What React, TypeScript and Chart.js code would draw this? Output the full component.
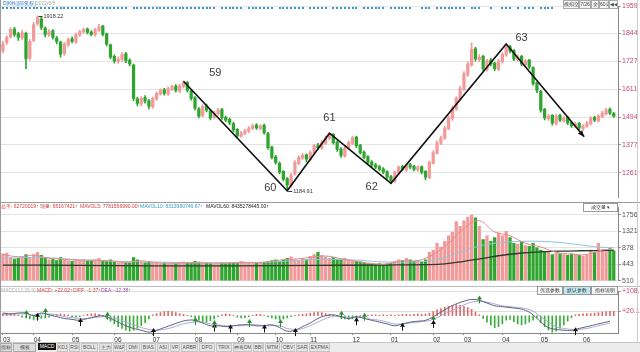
import React, { useEffect, useRef } from "react";
import { Chart, registerables } from "chart.js";
Chart.register(...registerables);

const FONT = '"Liberation Sans", Arial, sans-serif';
const UP = "#f29a9a";
const DOWN = "#2fa52f";

// ---------- price (OHLC) ----------
const opens = [1770,1805,1830,1862,1842,1825,1845,1740,1815,1885, 1905,1866,1838,1855,1825,1808,1760,1797,1822,1808, 1838,1850,1862,1850,1838,1858,1875,1842,1796,1748, 1726,1735,1760,1731,1712,1570,1548,1575,1562,1536, 1570,1590,1608,1590,1610,1624,1602,1622,1640,1603, 1575,1528,1500,1541,1520,1492,1508,1525,1493,1484, 1466,1442,1413,1425,1434,1446,1460,1445,1459,1425, 1368,1327,1300,1266,1236,1206,1255,1300,1322,1336, 1315,1342,1376,1363,1384,1404,1422,1389,1360,1330, 1363,1384,1410,1376,1347,1328,1306,1294,1286,1277, 1265,1245,1224,1260,1287,1272,1295,1287,1272,1286, 1266,1240,1300,1342,1384,1405,1445,1487,1528,1568, 1610,1670,1712,1780,1734,1748,1693,1732,1719,1693, 1726,1754,1789,1773,1734,1748,1713,1732,1701,1637, 1602,1526,1487,1501,1466,1501,1478,1493,1472,1454, 1468,1445,1455,1466,1493,1478,1495,1507,1526,1508];
const closes = [1799,1827,1860,1840,1827,1848,1737,1811,1881,1910, 1869,1840,1852,1827,1811,1757,1799,1819,1811,1840, 1852,1860,1848,1840,1860,1873,1840,1799,1745,1729, 1737,1757,1729,1716,1572,1551,1572,1560,1539,1572, 1593,1605,1593,1613,1621,1605,1626,1638,1605,1572, 1531,1498,1539,1523,1490,1510,1523,1490,1481,1469, 1440,1415,1428,1436,1448,1457,1448,1457,1428,1366, 1325,1304,1263,1234,1209,1251,1304,1325,1333,1317, 1345,1374,1366,1387,1407,1420,1387,1358,1333,1366, 1387,1407,1374,1345,1325,1304,1292,1284,1275,1263, 1242,1226,1263,1284,1275,1292,1284,1275,1284,1263, 1242,1304,1345,1387,1407,1448,1490,1531,1572,1613, 1675,1716,1778,1737,1745,1696,1729,1716,1696,1729, 1757,1786,1770,1737,1745,1716,1729,1704,1634,1605, 1523,1490,1498,1469,1498,1481,1490,1469,1457,1465, 1448,1457,1469,1490,1481,1498,1510,1523,1510,1498];
const highs = [1812,1835,1868,1870,1850,1858,1850,1818,1890,1918.22, 1912,1872,1860,1860,1832,1812,1806,1826,1830,1846, 1858,1866,1868,1856,1865,1882,1878,1846,1800,1754, 1746,1764,1765,1738,1716,1578,1580,1584,1568,1578, 1600,1612,1614,1620,1628,1630,1632,1644,1642,1608, 1580,1534,1546,1548,1526,1518,1530,1530,1498,1490, 1472,1446,1434,1442,1454,1464,1466,1462,1464,1430, 1372,1334,1306,1270,1240,1258,1312,1332,1342,1340, 1352,1380,1384,1394,1414,1426,1424,1394,1366,1372, 1394,1414,1414,1380,1352,1332,1312,1300,1292,1282, 1270,1250,1268,1290,1292,1298,1300,1292,1290,1290, 1270,1310,1352,1394,1414,1456,1498,1540,1580,1622, 1684,1726,1805,1786,1756,1752,1736,1740,1724,1736, 1764,1800,1794,1776,1754,1752,1736,1736,1704,1640, 1606,1530,1506,1504,1504,1506,1496,1498,1476,1472, 1472,1462,1476,1496,1498,1504,1518,1530,1532,1514];
const lows = [1762,1798,1824,1832,1815,1818,1696,1732,1810,1878, 1860,1830,1832,1820,1800,1745,1752,1790,1804,1802, 1832,1845,1842,1834,1832,1852,1834,1792,1738,1720, 1718,1728,1722,1708,1562,1540,1542,1552,1528,1530, 1564,1585,1586,1584,1604,1598,1596,1616,1598,1565, 1524,1490,1494,1515,1482,1486,1502,1484,1474,1462, 1432,1406,1408,1420,1428,1440,1442,1440,1422,1358, 1318,1296,1256,1226,1184.91,1200,1250,1294,1316,1306, 1310,1336,1358,1358,1378,1398,1380,1350,1325,1326, 1358,1378,1366,1338,1318,1296,1286,1278,1268,1256, 1234,1216,1220,1256,1268,1266,1278,1268,1266,1256, 1232,1236,1296,1338,1378,1400,1440,1480,1522,1562, 1604,1664,1706,1728,1726,1688,1686,1708,1688,1688, 1720,1748,1762,1730,1728,1708,1706,1696,1626,1596, 1514,1482,1480,1460,1460,1474,1472,1462,1450,1448, 1440,1438,1450,1460,1474,1472,1490,1502,1504,1492];
const priceTicks = [1959, 1844, 1727, 1611, 1494, 1377, 1261];

// wave (zigzag) annotation
const zigX = [47, 74, 85, 101, 131, 151.3];
const zigY = [1644, 1184.91, 1426, 1216, 1800, 1411];
const waveLabels = ["59", "60", "61", "62", "63"];
const waveLabelX = [55.3, 69.6, 85, 96, 135];
const waveLabelY = [1679, 1197, 1490, 1201, 1827];

// info-mine dots in header row
const dotIdx = [0,1,2,3,4,5,6,7,8,9,10,11,12,13,14,15,16,17,18,19,20,21,22,23,24,25,26,27,28,29,30,31,32,34,35,36,37,38,39,40,41,42,43,44,45,46,47,48,49,50,51,52,53,54,55,57,58,59,60,61,62,64,65,66,67,68,69,70,72,73,74,75,76,77,78,80,81,82,83,84,86,87,88,89,90,91,92,94,95,96,97,98,99,101,102,103,104,105,106,109,110,111,113,114,115,116,117,118,119,120,122,123,124,127,130,131,132,134,136,137,138,140,141,142,143,146,150,153,154,155];

// ---------- volume ----------
const volumes = [720,740,620,580,600,640,700,620,700,760, 680,600,560,580,540,620,560,540,520,560, 540,560,520,540,560,600,540,520,560,500, 480,500,470,480,620,560,500,480,520,470, 480,460,470,450,480,460,470,500,480,470, 520,500,480,470,460,450,470,480,460,470, 490,480,520,500,470,460,480,470,500,520, 540,560,520,560,600,640,560,540,600,560, 650,700,760,680,640,600,620,580,560,600, 560,540,520,500,480,460,450,440,460,430, 450,480,520,560,540,600,560,520,540,500, 560,760,820,1000,900,1050,1200,1300,1580,1450, 1600,1700,1750,1680,1450,1100,1200,1050,1150,1280, 1200,1320,1150,1000,980,1050,940,920,1000,880, 820,780,760,700,740,720,700,680,720,700, 680,660,700,820,760,1000,820,780,860,800];
const volTicks = [1756, 1321, 878, 443, 0];
const volTickLabels = ["1756", "1321", "878", "443", "510"];
const ma5X = [0,4,8,12,16,20,24,28,32,36,40,44,48,52,56,60,64,68,72,76,80,84,88,92,96,100,104,108,112,116,120,124,128,132,136,140,144,148,152,156,159];
const ma5Y = [700,640,680,600,570,550,550,530,490,530,480,470,480,480,470,480,480,490,550,580,620,660,590,520,460,450,540,540,700,1000,1400,1600,1300,1200,1000,900,760,710,700,820,830];
const ma10X = [0,10,20,30,40,50,60,70,80,90,100,110,115,120,125,130,135,140,145,150,155,159];
const ma10Y = [600,620,560,520,500,480,480,500,560,560,500,520,620,800,950,1020,1050,1050,1020,960,900,880];
const ma60X = [0,20,40,60,80,100,110,115,120,125,130,135,140,145,150,159];
const ma60Y = [420,410,400,400,410,420,430,450,520,600,680,740,770,790,800,810];

// ---------- MACD ----------
const lineX = [0,2,4,6,8,10,12,14,16,18,20,22,24,26,28,30,32,34,36,38,40,42,44,46,48,50,52,54,56,58,60,62,64,66,68,70,72,74,76,78,80,82,84,86,88,90,92,94,96,98,100,102,104,106,108,110,112,114,116,118,120,122,124,126,128,130,132,134,136,138,140,142,144,146,148,150,152,154,156,158];
const diffVals = [12,8,12,12,0,12,4,-4,-12,-16, -20,-12,-4,0,-12,-28,-44,-56,-64,-72, -64,-52,-40,-28,-20,-20,-32,-44,-44,-48, -44,-40,-40,-44,-44,-40,-52,-68,-64,-48, -32,-12,0,4,-4,-12,-4,-12,-20,-28, -36,-44,-36,-28,-24,-20,-4,16,36,52, 64,72,68,56,44,40,36,32,24,4, -28,-52,-60,-64,-64,-56,-48,-40,-32,-24];
const deaVals = [4,8,8,8,4,8,8,4,-4,-8, -12,-12,-8,-4,-8,-16,-28,-40,-52,-60, -64,-60,-52,-40,-32,-28,-28,-36,-40,-44, -44,-44,-40,-40,-44,-44,-44,-56,-60,-56, -44,-28,-12,-4,-4,-8,-8,-8,-16,-20, -28,-36,-36,-32,-28,-24,-16,0,16,32, 48,60,64,60,52,44,40,36,32,20, -4,-28,-48,-56,-60,-60,-56,-48,-40,-32];
const macdHist = [10,12,10,8,2,-6,-10,-14,-18,-16, -12,-10,-6,4,6,8,6,4,-4,-6, -4,2,6,8,10,6,-4,-12,-24,-36, -48,-56,-64,-68,-64,-56,-44,-30,-14,4, 10,14,18,20,18,14,10,6,2,-4, -12,-20,-26,-28,-22,-14,-4,4,8,6, 2,-6,-10,-8,-4,2,6,6,2,-4, -10,-14,-16,-14,-10,-4,2,4,6,8, 12,14,16,14,10,6,2,-4,-10,-14, -16,-14,-10,-6,-2,2,4,4,2,4, 2,4,2,4,6,6,4,6,8,6, 8,12,18,26,32,38,42,46,48,46, 42,36,28,16,4,-12,-28,-42,-52,-48, -36,-20,-16,-26,-36,-40,-36,-28,-20,-10, -30,-48,-62,-72,-68,-56,-40,-24,-8,4, 6,8,10,10,12,14,16,18,20,20];
const macdTicks = [108.2, 20.17];
const macdTickLabels = ["+108.2", "+20.17"];
const crossIdx = [6,9,11,20,27,39,50,55,55,59,64,68,72,76,88,92,94,104,112,112,124,149];
const crossVal = [8,-4,16,-28,0,-72,-24,-52,-36,-56,-32,-56,-32,-72,4,-24,-4,-48,-16,-36,72,-68];
const crossType = ["g","b","g","b","g","b","g","b","g","b","g","b","g","b","g","b","g","b","g","b","g","b"];

// ---------- date axis ----------
const monthIdx = [0,8,18,29,39,50,61,71,80,91,101,112,120,130,140,151];
const monthLabels = ["03","04","05","06","07","08","09","10","11","12","01","02","03","04","05","06"];

const tabs = ["KDJ","RSI","BOLL","主力","W&R","DMI","BIAS","ASI","VR","ARBR","DPO","TRIX","神奇DMA","BBI","MTM","OBV","SAR","EXPMA"];

const X_MIN = -0.5;
const X_MAX = 160.1;
const idxs = opens.map((_, i) => i);
const upAt = (i: number) => closes[i] >= opens[i];

const hiddenX = { type: "linear", min: X_MIN, max: X_MAX, display: false, offset: false } as any;

function rightAxis(ticks: number[], labels: string[] | null, color: string, min: number, max: number, gridColor: string) {
  return {
    type: "linear",
    position: "right",
    min,
    max,
    afterFit: (s: any) => { s.width = 22; },
    afterBuildTicks: (s: any) => { s.ticks = ticks.map((v) => ({ value: v })); },
    ticks: {
      font: { size: 7, family: FONT },
      color,
      padding: 1,
      autoSkip: false,
      callback: (v: any, i: number) => (labels ? labels[i] : String(v)),
    },
    grid: { color: gridColor, tickLength: 3, tickColor: "#999" },
    border: { color: "#888" },
  } as any;
}

const priceExtras = {
  id: "priceExtras",
  afterDatasetsDraw(chart: any) {
    const { ctx, chartArea } = chart;
    const x = chart.scales.x, y = chart.scales.y;
    ctx.save();
    ctx.fillStyle = "#3a98cf";
    dotIdx.forEach((i) => {
      const px = x.getPixelForValue(i);
      ctx.fillRect(Math.round(px) - 1, chartArea.top + 1, 2, 2);
    });
    ctx.fillStyle = "#3a3a3a";
    ctx.font = `11px ${FONT}`;
    ctx.textAlign = "center";
    ctx.textBaseline = "middle";
    waveLabels.forEach((t, k) => {
      ctx.fillText(t, x.getPixelForValue(waveLabelX[k]), y.getPixelForValue(waveLabelY[k]));
    });
    // arrow head on last segment
    const n = zigX.length;
    const x1 = x.getPixelForValue(zigX[n - 2]), y1 = y.getPixelForValue(zigY[n - 2]);
    const x2 = x.getPixelForValue(zigX[n - 1]), y2 = y.getPixelForValue(zigY[n - 1]);
    const a = Math.atan2(y2 - y1, x2 - x1);
    ctx.fillStyle = "#111";
    ctx.beginPath();
    ctx.moveTo(x2, y2);
    ctx.lineTo(x2 - 7 * Math.cos(a - 0.4), y2 - 7 * Math.sin(a - 0.4));
    ctx.lineTo(x2 - 7 * Math.cos(a + 0.4), y2 - 7 * Math.sin(a + 0.4));
    ctx.closePath();
    ctx.fill();
    // extreme annotations
    const hiI = highs.indexOf(Math.max(...highs));
    const loI = lows.indexOf(Math.min(...lows));
    ctx.strokeStyle = "#333";
    ctx.lineWidth = 1;
    ctx.font = `5.5px ${FONT}`;
    ctx.textAlign = "left";
    ctx.fillStyle = "#333";
    [[hiI, highs[hiI]], [loI, lows[loI]]].forEach(([i, v]) => {
      const px = x.getPixelForValue(i), py = Math.round(y.getPixelForValue(v)) + 0.5;
      ctx.beginPath();
      ctx.moveTo(px + 1, py);
      ctx.lineTo(px + 5, py);
      ctx.stroke();
      ctx.fillText(v.toFixed(2), px + 6, py);
    });
    ctx.restore();
  },
};

const macdExtras = {
  id: "macdExtras",
  afterDatasetsDraw(chart: any) {
    const { ctx } = chart;
    const x = chart.scales.x, y = chart.scales.y;
    ctx.save();
    crossIdx.forEach((i, k) => {
      const px = Math.round(x.getPixelForValue(i)) + 0.5;
      const py = y.getPixelForValue(crossVal[k]);
      const c = crossType[k] === "g" ? "#2e8b2e" : "#111";
      ctx.strokeStyle = c;
      ctx.fillStyle = c;
      ctx.lineWidth = 1;
      ctx.beginPath();
      ctx.moveTo(px, py - 1);
      ctx.lineTo(px, py + 4);
      ctx.stroke();
      ctx.beginPath();
      ctx.moveTo(px, py - 4);
      ctx.lineTo(px - 2.5, py);
      ctx.lineTo(px + 2.5, py);
      ctx.closePath();
      ctx.fill();
    });
    ctx.restore();
  },
};

function Txt(props: { x: number; y: number; c?: string; s?: number; children: any; w?: number; bg?: string; b?: string; align?: string }) {
  return (
    <div
      style={{
        position: "absolute",
        left: props.x,
        top: props.y,
        color: props.c || "#333",
        fontSize: props.s || 5,
        lineHeight: "7px",
        whiteSpace: "nowrap",
        width: props.w,
        background: props.bg,
        border: props.b,
        textAlign: (props.align as any) || "left",
        boxSizing: "border-box",
        overflow: "hidden",
      }}
    >
      {props.children}
    </div>
  );
}

export default function App() {
  const priceRef = useRef<HTMLCanvasElement>(null);
  const volRef = useRef<HTMLCanvasElement>(null);
  const macdRef = useRef<HTMLCanvasElement>(null);

  useEffect(() => {
    Chart.defaults.font.family = FONT;
    const base = {
      responsive: false,
      animation: false,
      events: [],
      plugins: { legend: { display: false }, tooltip: { enabled: false } },
    };
    const price = new Chart(priceRef.current!, {
      type: "bar",
      data: {
        datasets: [
          {
            type: "line",
            data: zigX.map((v, k) => ({ x: v, y: zigY[k] })),
            borderColor: "#111",
            borderWidth: 1.6,
            pointRadius: 0,
            order: -1,
          } as any,
          {
            type: "bar",
            data: idxs.map((i) => ({ x: i, y: [lows[i], highs[i]] })),
            backgroundColor: idxs.map((i) => (upAt(i) ? UP : DOWN)),
            barThickness: 1,
            grouped: false,
          },
          {
            type: "bar",
            data: idxs.map((i) => ({ x: i, y: [opens[i], closes[i]] })),
            backgroundColor: idxs.map((i) => (upAt(i) ? UP : DOWN)),
            barThickness: 2.6,
            minBarLength: 1,
            grouped: false,
          },
        ] as any,
      },
      options: {
        ...base,
        layout: { padding: { left: 1, top: 6, bottom: 2, right: 0 } },
        scales: {
          x: hiddenX,
          y: rightAxis(priceTicks, null, "#c8486a", 1155.6, 1959, "#e4e4e4"),
        },
      } as any,
      plugins: [priceExtras],
    });

    const vol = new Chart(volRef.current!, {
      type: "bar",
      data: {
        datasets: [
          { type: "line", data: ma5X.map((v, k) => ({ x: v, y: ma5Y[k] })), borderColor: "#e58a8a", borderWidth: 1, pointRadius: 0, tension: 0.4, order: -3 },
          { type: "line", data: ma10X.map((v, k) => ({ x: v, y: ma10Y[k] })), borderColor: "#8fc3dc", borderWidth: 1, pointRadius: 0, tension: 0.4, order: -2 },
          { type: "line", data: ma60X.map((v, k) => ({ x: v, y: ma60Y[k] })), borderColor: "#2d3a2d", borderWidth: 1.3, pointRadius: 0, tension: 0.4, order: -1 },
          {
            type: "bar",
            data: idxs.map((i) => ({ x: i, y: volumes[i] })),
            backgroundColor: idxs.map((i) => (upAt(i) ? UP : DOWN)),
            barThickness: 2.6,
            grouped: false,
          },
        ] as any,
      },
      options: {
        ...base,
        layout: { padding: { left: 1, top: 1, bottom: 1, right: 0 } },
        scales: {
          x: hiddenX,
          y: rightAxis(volTicks, volTickLabels, "#555", 0, 1960, "#e4e4e4"),
        },
      } as any,
    });

    const macd = new Chart(macdRef.current!, {
      type: "bar",
      data: {
        datasets: [
          { type: "line", data: lineX.map((v, k) => ({ x: v, y: diffVals[k] })), borderColor: "#5a6077", borderWidth: 1, pointRadius: 0, tension: 0.4, order: -2 },
          { type: "line", data: lineX.map((v, k) => ({ x: v, y: deaVals[k] })), borderColor: "#a7a7dc", borderWidth: 1, pointRadius: 0, tension: 0.4, order: -1 },
          {
            type: "bar",
            data: idxs.map((i) => ({ x: i, y: macdHist[i] })),
            backgroundColor: idxs.map((i) => (macdHist[i] >= 0 ? "#e06a6a" : "#3cae3c")),
            barThickness: 1,
            grouped: false,
          },
        ] as any,
      },
      options: {
        ...base,
        layout: { padding: { left: 1, top: 2, bottom: 0, right: 0 } },
        scales: {
          x: {
            type: "linear",
            min: X_MIN,
            max: X_MAX,
            offset: false,
            afterFit: (s: any) => { s.height = 10; },
            afterBuildTicks: (s: any) => { s.ticks = monthIdx.map((v) => ({ value: v })); },
            ticks: {
              font: { size: 6.5, family: FONT },
              color: "#333",
              align: "start",
              padding: 1,
              maxRotation: 0,
              autoSkip: false,
              callback: (_v: any, i: number) => monthLabels[i],
            },
            grid: { drawOnChartArea: false, tickLength: 2, color: "#888", offset: false },
            border: { color: "#888" },
          },
          y: rightAxis(macdTicks, macdTickLabels, "#c8486a", -76, 108.2, "#dddddd"),
        },
      } as any,
      plugins: [macdExtras],
    });

    return () => {
      price.destroy();
      vol.destroy();
      macd.destroy();
    };
  }, []);

  return (
    <div style={{ position: "fixed", left: 0, top: 0, width: 640, height: 352, background: "#fff", overflow: "hidden", fontFamily: FONT }}>
      <canvas ref={priceRef} width={640} height={203} style={{ position: "absolute", left: 0, top: 0 }} />
      <canvas ref={volRef} width={640} height={84} style={{ position: "absolute", left: 0, top: 202 }} />
      <canvas ref={macdRef} width={640} height={57} style={{ position: "absolute", left: 0, top: 286 }} />

      {/* frame lines */}
      <div style={{ position: "absolute", left: 0, top: 202, width: 640, height: 1, background: "#9a9a9a" }} />
      <div style={{ position: "absolute", left: 0, top: 286, width: 640, height: 1, background: "#bdbdbd" }} />
      <div style={{ position: "absolute", left: 0, top: 0, width: 1, height: 342, background: "#9a9a9a" }} />
      <div style={{ position: "absolute", left: 637, top: 0, width: 1, height: 342, background: "#cfcfcf" }} />

      {/* header */}
      <Txt x={3} y={0} c="#2a72c8">D[K线](前复权)</Txt>
      <Txt x={36} y={0} c="#aaa">2022/6/8</Txt>
      {["模拟交易", "7/26", "全", "60日", "◀◀"].map((t, k) => (
        <Txt key={k} x={[563, 579, 591, 599, 609][k]} y={0} w={[16, 12, 8, 10, 9][k]} b="1px solid #aaa" bg="#f4f4f4" c="#444" align="center">{t}</Txt>
      ))}

      {/* volume info row */}
      <Txt x={1} y={203} c="#d23c3c">总手: 62720019↑</Txt>
      <Txt x={40} y={203} c="#d23c3c">现量: 65167421↑</Txt>
      <Txt x={80} y={203} c="#d23c3c">MAVOL5: 7781556990.00↑</Txt>
      <Txt x={140} y={203} c="#3a9cc6">MAVOL10: 8313980746.67↑</Txt>
      <Txt x={206} y={203} c="#222">MAVOL60: 8435278445.00↑</Txt>
      <Txt x={583} y={203} w={35} b="1px solid #999" bg="#fff" c="#333" align="center">成交量 ▾</Txt>

      {/* MACD info row */}
      <Txt x={1} y={287} c="#b0b0b0">MACD(12,26,9)</Txt>
      <Txt x={37} y={287} c="#d23c3c">MACD: +22.02↑</Txt>
      <Txt x={73} y={287} c="#d23c3c">DIFF: -1.37↑</Txt>
      <Txt x={101} y={287} c="#a040a0">DEA: -12.38↑</Txt>
      <Txt x={537} y={286} w={26} b="1px solid #999" bg="#f6f6f6" c="#333" align="center">优选参数</Txt>
      <Txt x={563} y={286} w={28} b="1px solid #999" bg="#bfe9f2" c="#333" align="center">默认参数</Txt>
      <Txt x={591} y={286} w={27} b="1px solid #999" bg="#f6f6f6" c="#333" align="center">指标说明</Txt>

      {/* tab row */}
      <div style={{ position: "absolute", left: 0, top: 342, width: 640, height: 10, background: "#ececec", borderTop: "1px solid #c8c8c8" }} />
      <Txt x={0} y={343} w={12} b="1px solid #aaa" bg="#ddd" c="#444" align="center">指标</Txt>
      <Txt x={13} y={343} w={23} b="1px solid #aaa" bg="#ddd" c="#444" align="center">模板</Txt>
      <Txt x={38} y={343} w={18} bg="#111" c="#fff" align="center">MACD</Txt>
      {tabs.map((t, k) => (
        <Txt key={t} x={[57, 69, 81, 99, 113, 126, 141, 157, 170, 181, 199, 216, 233, 253, 265, 281, 296, 309][k]} y={343} w={[11, 11, 17, 13, 12, 14, 15, 12, 10, 17, 16, 16, 19, 11, 15, 14, 12, 21][k]} b="1px solid #c4c4c4" bg="#e6e6e6" c="#555" align="center">{t}</Txt>
      ))}
    </div>
  );
}
